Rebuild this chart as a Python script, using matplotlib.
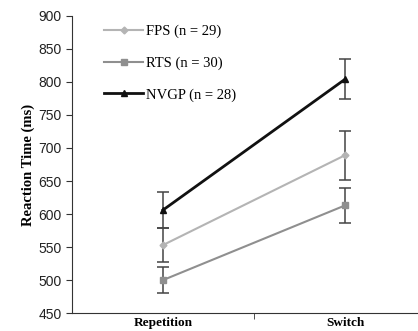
import matplotlib.pyplot as plt
import numpy as np

conditions = ["Repetition", "Switch"]
groups = ["FPS (n = 29)", "RTS (n = 30)", "NVGP (n = 28)"]
fps_rt = [553, 689]
rts_rt = [500, 613]
nvgp_rt = [606, 804]
fps_err = [26, 37]
rts_err = [20, 26]
nvgp_err = [27, 30]

x = np.array([0.5, 1.5])

fig = plt.figure(figsize=(4.18, 3.31), dpi=100)
ax = fig.add_axes([0.172, 0.054, 0.871, 0.898])

styles = [
    (fps_rt, fps_err, "#b4b4b4", "D", 3.5, 1.5),
    (rts_rt, rts_err, "#8f8f8f", "s", 5, 1.5),
    (nvgp_rt, nvgp_err, "#111111", "^", 5, 2.0),
]
for (vals, err, col, mk, ms, lw), lab in zip(styles, groups):
    ax.errorbar(x, vals, yerr=err, fmt="none", ecolor="#444444",
                elinewidth=1.1, capsize=4, capthick=1.1, zorder=1)
    ax.plot(x, vals, color=col, marker=mk, markersize=ms, lw=lw,
            label=lab, zorder=2)

ax.set_xlim(0, 2)
ax.set_ylim(450, 900)
ax.set_yticks(np.arange(450, 901, 50))
ax.set_xticks(x)
ax.set_xticklabels(conditions, fontfamily="Liberation Serif",
                   fontweight="bold", fontsize=9.5)
ax.set_xticks([1], minor=True)
ax.tick_params(axis="x", which="major", length=0, pad=3)
ax.tick_params(axis="x", which="minor", length=4, color="#333333")
ax.tick_params(axis="y", labelsize=10, length=4, color="#333333",
               labelcolor="#222222")
for t in ax.get_yticklabels():
    t.set_fontfamily("Liberation Sans")

ax.set_ylabel("Reaction Time (ms)", fontfamily="Liberation Serif",
              fontweight="bold", fontsize=10.5, labelpad=2)

for s in ["top", "right"]:
    ax.spines[s].set_visible(False)
ax.spines["left"].set_color("#333333")
ax.spines["bottom"].set_color("#333333")

ax.legend(loc="upper left", bbox_to_anchor=(0.052, 1.014), frameon=False,
          prop={"family": "Liberation Serif", "size": 10.5},
          handlelength=2.7, labelspacing=1.25, handletextpad=0.15)

fig.savefig("out.png", dpi=100)
